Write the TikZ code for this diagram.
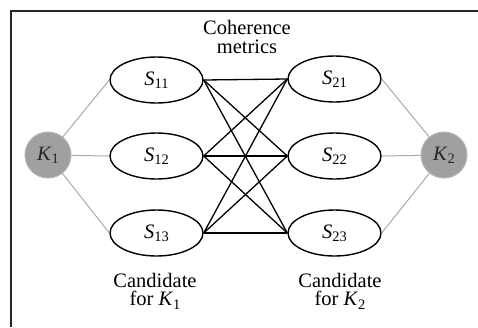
\documentclass[tikz,border=0pt]{standalone}
\usepackage{fontspec}
\setmainfont{Liberation Serif}
\usetikzlibrary{shapes.geometric}
\newcommand{\Ssub}[2]{\textit{#1}\raisebox{-0.35ex}{\fontsize{14.5}{15}\selectfont #2}}
\definecolor{kfill}{HTML}{A0A0A0}
\definecolor{kedge}{HTML}{B4B4B4}
\definecolor{glink}{HTML}{AAAAAA}
\begin{document}
\begin{tikzpicture}[x=1pt,y=-1pt,
  sbox/.style={ellipse,draw=black,line width=1.4pt,minimum width=93pt,minimum height=46pt,inner sep=0pt,font=\fontsize{20.5}{22}\selectfont},
  kbox/.style={circle,fill=kfill,draw=kedge,line width=1pt,minimum size=46pt,inner sep=0pt,text=black!85,font=\fontsize{20.5}{22}\selectfont},
  glinkline/.style={draw=glink,line width=1pt},
  blink/.style={draw=black,line width=1.3pt},
  lbl/.style={align=center,font=\fontsize{20.5}{20.5}\selectfont,inner sep=0pt}]
\useasboundingbox (0,0) rectangle (478,327);
\draw[line width=1.5pt,black!85] (11,327) -- (11,11) -- (478,11);
\node[sbox] (S11) at (156.5,80) {\Ssub{S}{11}};
\node[sbox] (S12) at (156.5,156) {\Ssub{S}{12}};
\node[sbox] (S13) at (156.5,233) {\Ssub{S}{13}};
\node[sbox] (S21) at (334.5,79) {\Ssub{S}{21}};
\node[sbox] (S22) at (334.5,156) {\Ssub{S}{22}};
\node[sbox] (S23) at (334.5,233) {\Ssub{S}{23}};
\node[kbox] (K1) at (48,155) {\Ssub{K}{1}};
\node[kbox] (K2) at (444,155) {\Ssub{K}{2}};
\foreach \i in {11,12,13} \draw[glinkline] (K1) -- (S\i.west);
\foreach \i in {21,22,23} \draw[glinkline] (K2) -- (S\i.east);
\foreach \i in {11,12,13} \foreach \j in {21,22,23} \draw[blink] (S\i.east) -- (S\j.west);
\node[lbl] (coh) at (247,37) {Coherence\\[-2pt]metrics};
\node[lbl] (c1) at (155,291) {Candidate\\[-2pt]for \Ssub{K}{1}};
\node[lbl] (c2) at (340,291) {Candidate\\[-2pt]for \Ssub{K}{2}};
\end{tikzpicture}
\end{document}
